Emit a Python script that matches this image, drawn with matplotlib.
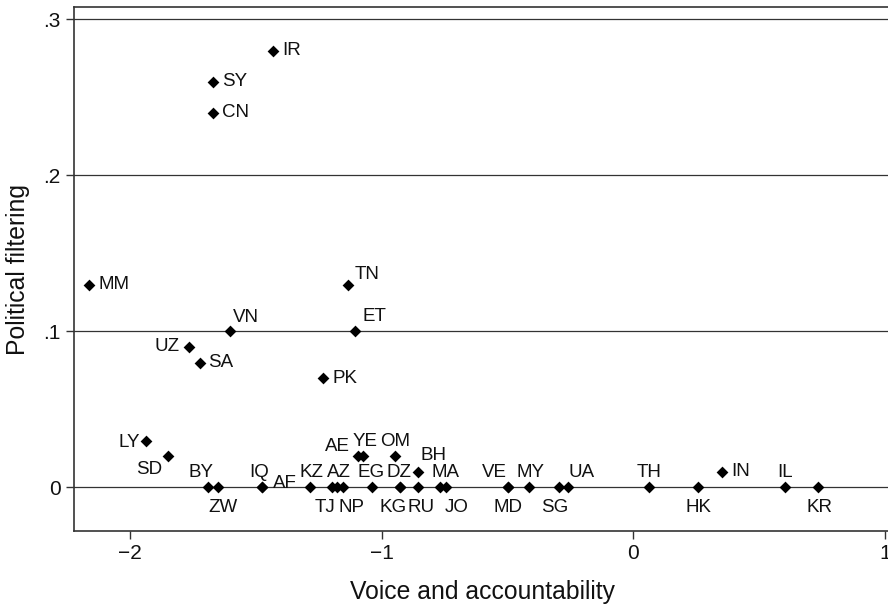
import matplotlib
matplotlib.use("Agg")
import matplotlib.pyplot as plt

codes = ["IR", "SY", "CN", "MM", "TN", "VN", "ET", "UZ", "SA", "PK",
         "LY", "SD", "AE", "YE", "OM", "BH", "IN",
         "BY", "ZW", "IQ", "AF", "KZ", "TJ", "AZ", "NP", "EG", "DZ", "KG",
         "RU", "MA", "JO", "VE", "MD", "MY", "SG", "UA", "TH", "HK", "IL", "KR"]
voice = [-1.430, -1.671, -1.671, -2.161, -1.132, -1.602, -1.106, -1.764, -1.721, -1.234,
         -1.936, -1.847, -1.095, -1.073, -0.947, -0.854, 0.351,
         -1.689, -1.649, -1.476, -1.476, -1.284, -1.198, -1.178, -1.155, -1.037, -0.927, -0.927,
         -0.854, -0.768, -0.744, -0.499, -0.499, -0.414, -0.295, -0.261, 0.064, 0.258, 0.603, 0.733]
filtering = [0.28, 0.26, 0.24, 0.13, 0.13, 0.10, 0.10, 0.09, 0.08, 0.07,
             0.03, 0.02, 0.02, 0.02, 0.02, 0.01, 0.01,
             0, 0, 0, 0, 0, 0, 0, 0, 0, 0, 0,
             0, 0, 0, 0, 0, 0, 0, 0, 0, 0, 0, 0]

xticks = [-2, -1, 0, 1]
xtick_labels = ["\u22122", "\u22121", "0", "1"]
yticks = [0, 0.1, 0.2, 0.3]
ytick_labels = ["0", ".1", ".2", ".3"]

# label placement: (dx px, dy px downward, horizontal alignment)
label_pos = {
    "IR": (9, 0, "left"), "SY": (9, 0, "left"), "CN": (9, 0, "left"),
    "MM": (9, 0, "left"), "SA": (8, 0, "left"), "PK": (10, 0, "left"),
    "IN": (10, 0, "left"), "AF": (11, -4, "left"),
    "TN": (6, -10, "left"), "VN": (3, -14, "left"), "ET": (8, -15, "left"),
    "BH": (2, -16, "left"),
    "UZ": (-10, 0, "right"), "LY": (-6, 2, "right"), "SD": (-6, 13, "right"),
    "AE": (-8, -10, "right"),
    "BY": (-7, -15, "center"), "IQ": (-3, -15, "center"), "KZ": (1, -15, "center"),
    "AZ": (2, -15, "center"), "EG": (-1, -15, "center"), "DZ": (-1, -15, "center"),
    "MA": (6, -15, "center"), "YE": (2, -15, "center"), "OM": (0, -15, "center"),
    "VE": (-13, -15, "center"), "MY": (1, -15, "center"), "UA": (14, -15, "center"),
    "TH": (0, -15, "center"), "IL": (0, -15, "center"),
    "ZW": (5, 20, "center"), "TJ": (-7, 20, "center"), "NP": (9, 20, "center"),
    "KG": (-7, 20, "center"), "RU": (3, 20, "center"), "JO": (11, 20, "center"),
    "MD": (0, 20, "center"), "SG": (-4, 20, "center"), "HK": (0, 20, "center"),
    "KR": (2, 20, "center"),
}

plt.rcParams["font.family"] = ["Liberation Sans", "DejaVu Sans"]
ink = "#333333"

fig = plt.figure(figsize=(8.88, 6.05), dpi=100)
ax = fig.add_axes([0.0833, 0.1223, 0.9190, 0.8656])

for y in yticks:
    ax.axhline(y, color=ink, lw=0.9, zorder=1)

ax.scatter(voice, filtering, marker="D", s=36, color="black", linewidths=0, zorder=3)

for c, x, y in zip(codes, voice, filtering):
    dx, dy, ha = label_pos[c]
    ax.annotate(c, (x, y), xytext=(dx, -dy), textcoords="offset pixels",
                ha=ha, va="center", fontsize=13.5, color="#111111", zorder=4)

ax.set_xlim(-2.222, 1.02)
ax.set_ylim(-0.028, 0.3077)
ax.set_xticks(xticks)
ax.set_xticklabels(xtick_labels)
ax.set_yticks(yticks)
ax.set_yticklabels(ytick_labels)
ax.tick_params(direction="out", length=5.5, width=1.0, color=ink, labelsize=15,
               labelcolor="#111111", pad=4)

for side in ["left", "bottom", "top"]:
    ax.spines[side].set_color(ink)
    ax.spines[side].set_linewidth(1.2)
ax.spines["right"].set_visible(False)

ax.set_xlabel("Voice and accountability", fontsize=17.8, color="#111111", labelpad=12)
ax.set_ylabel("Political filtering", fontsize=17.8, color="#111111", labelpad=10)

fig.savefig("out.png", dpi=100)
